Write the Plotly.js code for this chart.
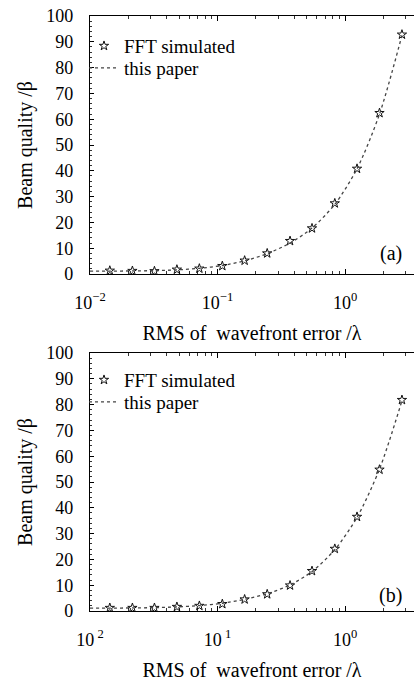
<!DOCTYPE html>
<html>
<head>
<meta charset="utf-8">
<script src="https://cdn.plot.ly/plotly-3.0.1.min.js"></script>
<style>
html,body{margin:0;padding:0;background:#fff;}
#chart{width:414px;height:685px;}
</style>
</head>
<body>
<div id="chart"></div>
<script>
// RMS of wavefront error (in wavelengths)
const rmsPoints = [0.0143, 0.0215, 0.032, 0.048, 0.072, 0.109, 0.163, 0.245, 0.37, 0.55, 0.83, 1.24, 1.86, 2.79];
const rmsLine   = [0.01, 0.0143, 0.0215, 0.032, 0.048, 0.072, 0.109, 0.163, 0.245, 0.37, 0.55, 0.83, 1.24, 1.86, 2.79];

// (a) beam quality
const fftA   = [1.3, 1.2, 1.1, 1.7, 2.1, 3.1, 5.2, 8.0, 12.8, 17.7, 27.4, 40.8, 62.4, 92.8];
const paperA = [1.1, 1.1, 1.2, 1.3, 1.6, 2.2, 3.3, 5.1, 7.9, 12.0, 17.8, 27.0, 40.8, 62.0, 92.5];

// (b) beam quality
const fftB   = [1.2, 1.2, 1.2, 1.6, 2.0, 2.7, 4.5, 6.5, 9.9, 15.5, 24.1, 36.5, 54.8, 81.8];
const paperB = [1.1, 1.1, 1.2, 1.3, 1.6, 2.1, 3.0, 4.5, 6.7, 10.1, 15.3, 23.8, 36.3, 55.0, 81.5];

const tickValsX = [0.01, 0.1, 1];
const tickTextA = ["10<sup>\u22122</sup>", "10<sup>\u22121</sup>", "10<sup>0</sup>"];
const tickTextB = ["10<sup> 2</sup>", "10<sup> 1</sup>", "10<sup>0</sup>"];
const tickValsY = [0, 10, 20, 30, 40, 50, 60, 70, 80, 90, 100];
const seriesNames = ["FFT simulated", "this paper"];
const panelLabels = ["(a)", "(b)"];
const xTitle = "RMS of  wavefront error /\u03bb";
const yTitle = "Beam quality /\u03b2";

const FONT = "Liberation Serif";

// minor tick positions on the log axis: 2..9 times each decade
const minorX = [];
[0.01, 0.1, 1].forEach(d => { for (let k = 2; k <= 9; k++) minorX.push(d * k); });

function fftTrace(y, xa, ya, leg) {
  return {x: rmsPoints, y: y, xaxis: xa, yaxis: ya, legend: leg,
    type: 'scatter', mode: 'markers', name: seriesNames[0],
    marker: {symbol: 'star-open', size: 7, color: '#111', line: {width: 1, color: '#111'}}};
}
function lineTrace(y, xa, ya, leg) {
  return {x: rmsLine, y: y, xaxis: xa, yaxis: ya, legend: leg,
    type: 'scatter', mode: 'lines', name: seriesNames[1],
    line: {color: '#444', width: 1.3, dash: 'dot', shape: 'spline', smoothing: 0.8}};
}

const data = [
  fftTrace(fftA, 'x', 'y', 'legend'),
  lineTrace(paperA, 'x', 'y', 'legend3'),
  fftTrace(fftB, 'x2', 'y2', 'legend2'),
  lineTrace(paperB, 'x2', 'y2', 'legend4')
];

function xAxis(ticktext, anchor) {
  return {
    type: 'log', range: [-2, 0.54], domain: [90/414, 1], anchor: anchor,
    tickvals: tickValsX, ticktext: ticktext,
    ticks: 'inside', ticklen: 5, tickwidth: 1, tickcolor: '#000',
    minor: {tickvals: minorX, ticks: 'inside', ticklen: 3, tickwidth: 0.8, tickcolor: '#000', showgrid: false},
    showline: true, linecolor: '#000', linewidth: 1.2, mirror: 'ticks',
    showgrid: false, zeroline: false, ticklabelstandoff: 12,
    tickfont: {family: FONT, size: 18, color: '#000'},
    title: {text: xTitle, font: {family: FONT, size: 20, color: '#000'}, standoff: 14},
    automargin: false
  };
}
function yAxis(anchor, domain) {
  return {
    range: [0, 100], domain: domain, anchor: anchor,
    tickvals: tickValsY,
    ticks: 'inside', ticklen: 4, tickwidth: 1, tickcolor: '#000',
    minor: {ticks: 'inside', ticklen: 2, tickwidth: 0.8, tickcolor: '#000', dtick: 2, showgrid: false},
    showline: true, linecolor: '#000', linewidth: 1.2, mirror: false,
    showgrid: false, zeroline: false, ticklabelstandoff: 12,
    tickfont: {family: FONT, size: 18, color: '#000'},
    title: {text: yTitle, font: {family: FONT, size: 20, color: '#000'}, standoff: 8},
    automargin: false
  };
}

const legendStyle = {
  xref: 'paper', yref: 'paper', xanchor: 'left', yanchor: 'middle',
  bgcolor: 'rgba(0,0,0,0)', borderwidth: 0,
  font: {family: FONT, size: 19, color: '#000'},
  itemwidth: 30
};

const layout = {
  width: 414, height: 685,
  margin: {l: 0, r: 0, t: 0, b: 0, pad: 0},
  paper_bgcolor: '#fff', plot_bgcolor: '#fff',
  font: {family: FONT, color: '#000'},
  showlegend: true,
  xaxis: xAxis(tickTextA, 'y'),
  yaxis: yAxis('x', [1 - 274/685, 1 - 16/685]),
  xaxis2: xAxis(tickTextB, 'y2'),
  yaxis2: yAxis('x2', [1 - 611/685, 1 - 353/685]),
  legend:  Object.assign({}, legendStyle, {x: 84/414, y: 1 - 46/685}),
  legend3: Object.assign({}, legendStyle, {x: 84/414, y: 1 - 68/685}),
  legend2: Object.assign({}, legendStyle, {x: 84/414, y: 1 - 380/685}),
  legend4: Object.assign({}, legendStyle, {x: 84/414, y: 1 - 402/685}),
  annotations: [
    {text: panelLabels[0], xref: 'paper', yref: 'paper', x: 391/414, y: 1 - 253/685,
     showarrow: false, xanchor: 'center', yanchor: 'middle', font: {family: FONT, size: 20, color: '#000'}},
    {text: panelLabels[1], xref: 'paper', yref: 'paper', x: 390/414, y: 1 - 595/685,
     showarrow: false, xanchor: 'center', yanchor: 'middle', font: {family: FONT, size: 20, color: '#000'}}
  ]
};

Plotly.newPlot('chart', data, layout, {staticPlot: true, displayModeBar: false});
</script>
</body>
</html>
